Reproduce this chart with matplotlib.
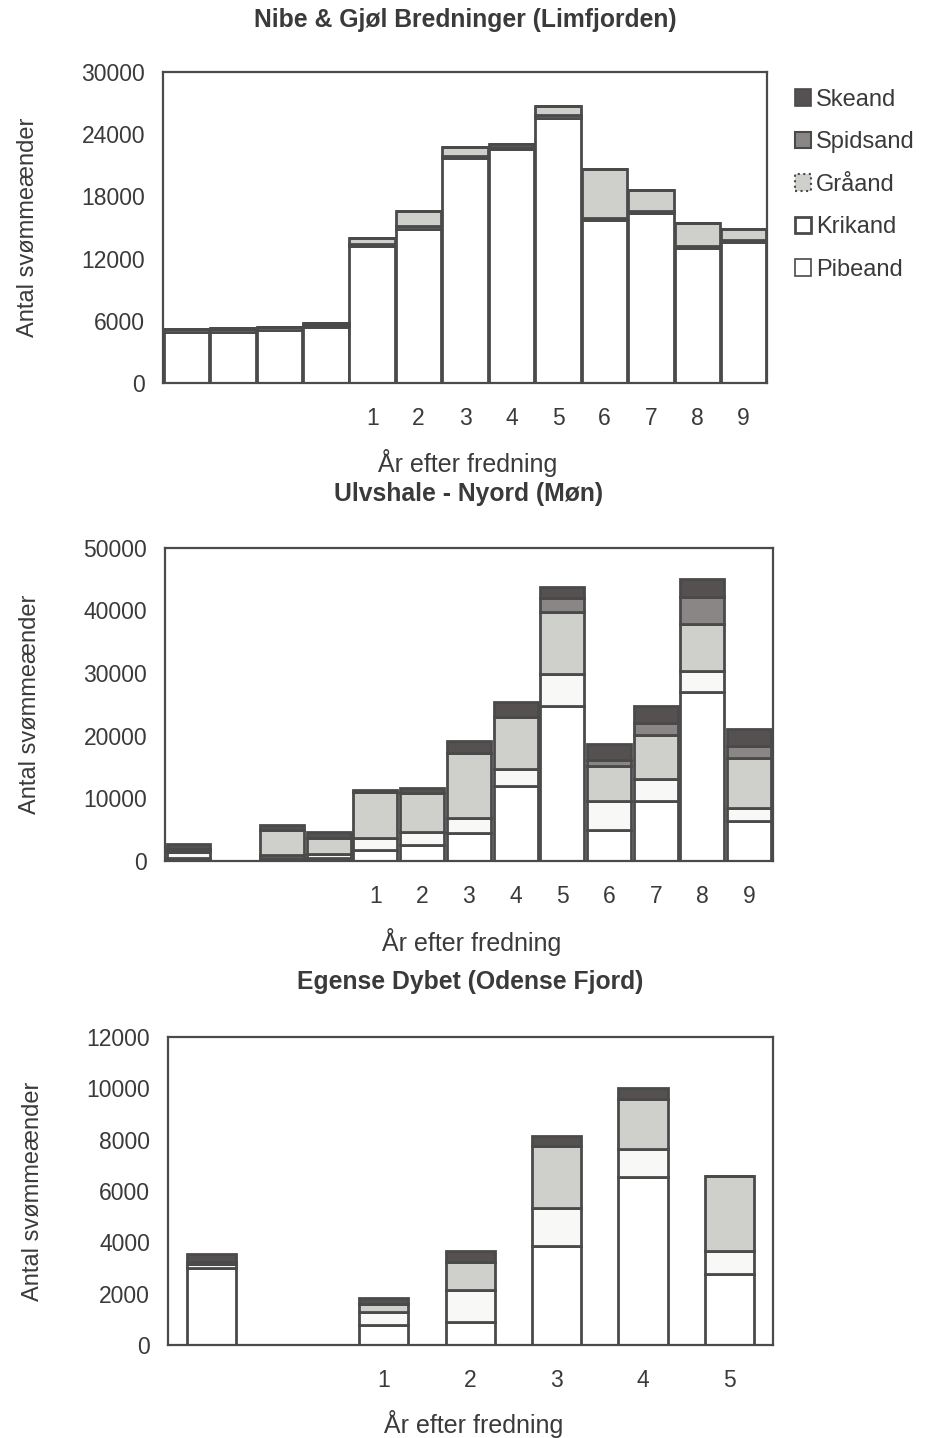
import matplotlib
matplotlib.use('Agg')
import matplotlib.pyplot as plt
from matplotlib.patches import Patch

# Dados (Pibeand embaixo, Skeand em cima)
arter = ['Pibeand', 'Krikand', 'Gråand', 'Spidsand', 'Skeand']

# Nibe & Gjøl Bredninger (Limfjorden)
nibe_labels = ['', '', '', '', '1', '2', '3', '4', '5', '6', '7', '8', '9']
nibe_pibeand = [4900, 4900, 5100, 5400, 13200, 14800, 21700, 22600, 25600, 15700, 16400, 13000, 13600]
nibe_krikand = [300, 300, 250, 200, 200, 300, 200, 200, 200, 200, 200, 200, 200]
nibe_graaand = [0, 100, 0, 200, 600, 1500, 850, 200, 900, 4700, 2000, 2200, 1000]
nibe_spidsand = [0, 0, 0, 0, 0, 0, 0, 0, 0, 0, 0, 0, 0]
nibe_skeand = [0, 0, 0, 0, 0, 0, 0, 0, 0, 0, 0, 0, 0]

# Ulvshale - Nyord (Møn)
ulv_labels = ['', '', '', '', '1', '2', '3', '4', '5', '6', '7', '8', '9']
ulv_pibeand = [500, 0, 500, 500, 1800, 2600, 4450, 11950, 24800, 5000, 9500, 27000, 6300]
ulv_krikand = [1000, 0, 500, 600, 1900, 2100, 2400, 2800, 5000, 4600, 3600, 3300, 2200]
ulv_graaand = [300, 0, 4000, 2600, 7300, 6100, 10400, 8200, 10000, 5500, 7000, 7600, 7900]
ulv_spidsand = [100, 0, 0, 0, 0, 0, 0, 0, 2200, 1000, 2000, 4300, 2000]
ulv_skeand = [800, 0, 700, 900, 400, 900, 1900, 2400, 1750, 2500, 2600, 2800, 2600]

# Egense Dybet (Odense Fjord)
egense_labels = ['', '', '1', '2', '3', '4', '5']
egense_pibeand = [3000, 0, 780, 900, 3850, 6550, 2750]
egense_krikand = [150, 0, 520, 1250, 1500, 1100, 900]
egense_graaand = [100, 0, 300, 1100, 2400, 1950, 2950]
egense_spidsand = [0, 0, 0, 0, 0, 0, 0]
egense_skeand = [300, 0, 240, 400, 400, 400, 0]

farver = ['#ffffff', '#f8f8f6', '#cfcfcb', '#8a8686', '#555151']
kant = '#4a4a4a'
tekst = '#3a3a3a'


def tegn_panel(ax, titel, labels, serier, yticks, bredde, title_y, xlabel_y, ylabel_x):
    x = list(range(len(labels)))
    bund = [0] * len(labels)
    for vaerdier, farve in zip(serier, farver):
        ax.bar(x, vaerdier, bottom=bund, width=bredde, color=farve,
               edgecolor=kant, linewidth=2.0, zorder=2)
        bund = [b + v for b, v in zip(bund, vaerdier)]

    ax.set_xlim(-0.5, len(labels) - 0.5)
    ax.set_ylim(0, yticks[-1])
    ax.set_yticks(yticks)
    ax.set_yticklabels([str(t) for t in yticks])
    ax.set_xticks(x)
    ax.set_xticklabels(labels)
    ax.tick_params(axis='both', length=0, labelsize=16.5, colors=tekst)
    ax.tick_params(axis='y', pad=13)
    ax.tick_params(axis='x', pad=17)
    for s in ax.spines.values():
        s.set_color(kant)
        s.set_linewidth(1.6)

    ax.set_title(titel, fontsize=17.8, fontweight='bold', color=tekst,
                 y=title_y, va='center', pad=0)
    ax.set_xlabel('År efter fredning', fontsize=18, color=tekst, va='center')
    ax.xaxis.set_label_coords(0.505, xlabel_y)
    ax.set_ylabel('Antal svømmeænder', fontsize=17, color=tekst, va='center')
    ax.yaxis.set_label_coords(ylabel_x, 0.5)


def main():
    plt.rcParams['font.family'] = ['Liberation Sans', 'DejaVu Sans']

    fig = plt.figure(figsize=(9.33, 14.38), dpi=100)
    ax1 = fig.add_axes([0.175, 0.7337, 0.647, 0.2163])
    ax2 = fig.add_axes([0.177, 0.4013, 0.651, 0.2177])
    ax3 = fig.add_axes([0.180, 0.0647, 0.648, 0.2142])

    tegn_panel(ax1, 'Nibe & Gjøl Bredninger (Limfjorden)', nibe_labels,
               [nibe_pibeand, nibe_krikand, nibe_graaand, nibe_spidsand, nibe_skeand],
               [0, 6000, 12000, 18000, 24000, 30000], 0.98, 1.167, -0.257, -0.224)
    tegn_panel(ax2, 'Ulvshale - Nyord (Møn)', ulv_labels,
               [ulv_pibeand, ulv_krikand, ulv_graaand, ulv_spidsand, ulv_skeand],
               [0, 10000, 20000, 30000, 40000, 50000], 0.94, 1.1725, -0.259, -0.222)
    tegn_panel(ax3, 'Egense Dybet (Odense Fjord)', egense_labels,
               [egense_pibeand, egense_krikand, egense_graaand, egense_spidsand, egense_skeand],
               [0, 2000, 4000, 6000, 8000, 10000, 12000], 0.57, 1.179, -0.256, -0.223)

    # Legenda (Skeand em cima)
    handles = [
        Patch(facecolor=farver[4], edgecolor=kant, linewidth=1.2),
        Patch(facecolor=farver[3], edgecolor=kant, linewidth=1.5),
        Patch(facecolor=farver[2], edgecolor=kant, linewidth=1.5, linestyle=':'),
        Patch(facecolor='white', edgecolor=kant, linewidth=2.0),
        Patch(facecolor='white', edgecolor=kant, linewidth=1.2),
    ]
    fig.legend(handles, arter[::-1], loc='upper left', bbox_to_anchor=(0.829, 0.953),
               frameon=False, fontsize=17, handlelength=0.7, handleheight=0.7,
               handletextpad=0.2, labelspacing=0.87, labelcolor=tekst)

    fig.savefig('out.png', dpi=100, facecolor='white')


if __name__ == '__main__':
    main()
